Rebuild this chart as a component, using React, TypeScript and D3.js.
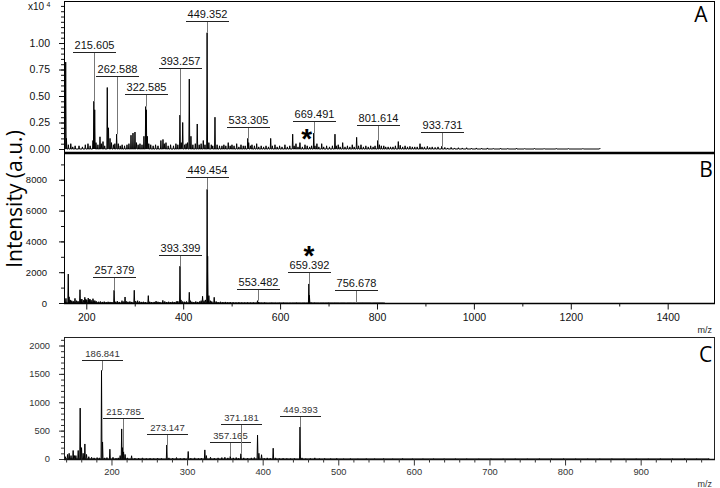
import { useEffect, useRef } from 'react';
import * as d3 from 'd3';

type Peak = [number, number];
type PeakLabel = { mz: number; at: number };

// panel A, intensity in units of 10^4
const spectrumA: Peak[] = [
  [157.5, 0.82], [159, 0.1], [163, 0.04], [168, 0.05], [172, 0.02], [177, 0.03], [185, 0.03], [192, 0.02],
  [198, 0.04], [203.5, 0.05], [208, 0.03], [213.8, 0.08], [215.6, 0.45], [217.4, 0.37], [220, 0.06], [224, 0.04],
  [228.3, 0.115], [231, 0.05], [234.5, 0.07], [238, 0.03], [243.3, 0.58], [245.8, 0.2], [249, 0.1], [252, 0.06],
  [256, 0.04], [259, 0.05], [262.6, 0.14], [266, 0.05], [270, 0.03], [274, 0.04], [279, 0.03], [284, 0.04],
  [288, 0.05], [292.3, 0.13], [296.4, 0.15], [300.5, 0.16], [303.6, 0.06], [307, 0.04], [310.8, 0.05], [315, 0.04],
  [319, 0.12], [322.6, 0.4], [323.9, 0.37], [326, 0.12], [329, 0.05], [333, 0.04], [338, 0.03], [343, 0.04],
  [348, 0.03], [354, 0.08], [358.3, 0.09], [361, 0.05], [364.5, 0.06], [369, 0.03], [374, 0.04], [380, 0.03],
  [385, 0.05], [389, 0.04], [393.3, 0.32], [396, 0.06], [399, 0.25], [403, 0.04], [406, 0.05], [409, 0.06],
  [412.6, 0.66], [416, 0.12], [420, 0.04], [425, 0.05], [429, 0.236], [433, 0.04], [437, 0.05], [441.5, 0.08],
  [445, 0.04], [449.35, 1.097], [453, 0.06], [458, 0.04], [461, 0.03], [465.6, 0.3], [470, 0.04], [475, 0.03],
  [480, 0.03], [484, 0.04], [488, 0.03], [493, 0.06], [497, 0.03], [500.7, 0.04], [505, 0.03], [510.4, 0.05],
  [515, 0.02], [519.3, 0.04], [524, 0.03], [528, 0.03], [533.3, 0.1], [535.2, 0.06], [539, 0.03], [542, 0.04],
  [547, 0.03], [551.7, 0.05], [556, 0.02], [561, 0.03], [566, 0.02], [571, 0.03], [576, 0.02], [580.6, 0.1],
  [584, 0.03], [589.5, 0.04], [594, 0.02], [599, 0.03], [604, 0.02], [610, 0.04], [615, 0.02], [620, 0.03],
  [626, 0.14], [629, 0.03], [632.8, 0.05], [637, 0.02], [641, 0.06], [646, 0.02], [651.4, 0.04], [656, 0.03],
  [661, 0.02], [665, 0.03], [669.5, 0.15], [672, 0.03], [676, 0.05], [680, 0.02], [685.9, 0.05], [690, 0.02],
  [696, 0.03], [702, 0.02], [708, 0.03], [713.3, 0.14], [716, 0.03], [720, 0.04], [724, 0.02], [729.2, 0.06],
  [734, 0.02], [739, 0.03], [744, 0.02], [749, 0.04], [753, 0.02], [758, 0.11], [762, 0.03], [767, 0.04],
  [772, 0.02], [777, 0.03], [782, 0.02], [787, 0.03], [792, 0.02], [796, 0.03], [801.6, 0.08], [805, 0.04],
  [809, 0.03], [814, 0.03], [818, 0.02], [823, 0.02], [828, 0.02], [833, 0.02], [838, 0.03], [844, 0.07],
  [848, 0.035], [853, 0.02], [858, 0.03], [863, 0.02], [868, 0.025], [873, 0.02], [878, 0.02], [883, 0.02],
  [888.8, 0.05], [893, 0.02], [898, 0.02], [904, 0.025], [909, 0.015], [914, 0.02], [920, 0.015], [926, 0.02],
  [933.7, 0.025], [940, 0.015], [946, 0.01], [953, 0.015], [960, 0.01], [968, 0.012], [976, 0.01], [985, 0.012],
  [995, 0.008], [1005, 0.01], [1016, 0.008], [1028, 0.01], [1040, 0.006], [1055, 0.008], [1070, 0.006],
  [1088, 0.008], [1105, 0.005], [1125, 0.006], [1145, 0.005], [1170, 0.006], [1195, 0.005], [1225, 0.005], [1260, 0.006],
];

const spectrumB: Peak[] = [
  [158, 300], [162.8, 1880], [164.5, 400], [167, 200], [170, 150], [173, 120], [176.7, 300], [180, 150],
  [183, 120], [187, 860], [189, 250], [191, 250], [194, 180], [197, 370], [199, 250], [201, 200],
  [204, 320], [206, 220], [207.6, 250], [210, 180], [213.8, 280], [216, 150], [218, 150], [221, 100],
  [225, 80], [229, 100], [233, 70], [237, 90], [241, 60], [245, 80], [249, 70], [253, 60],
  [257.4, 825], [260, 80], [264, 120], [268, 70], [273.7, 150], [277, 90], [280, 390], [283, 100],
  [286, 80], [290, 100], [294, 70], [299, 825], [302, 120], [306, 150], [310, 100], [314, 70],
  [318, 80], [322, 60], [328, 477], [331, 80], [335, 60], [340, 70], [344, 120], [348, 80],
  [352, 60], [358, 170], [362, 100], [366, 60], [370, 80], [374, 60], [378, 80], [382, 60],
  [386, 100], [389, 120], [393.4, 2390], [395.5, 200], [399, 100], [403, 80], [407, 100], [412.6, 695],
  [415, 150], [418, 80], [422, 60], [426, 100], [430, 70], [434, 100], [437, 150], [440, 434],
  [443, 150], [446, 200], [449.45, 7380], [450.5, 3040], [453, 477], [456, 150], [459, 100], [464, 370],
  [468, 100], [472, 60], [477, 80], [482, 60], [487, 70], [492, 50], [497, 60], [503, 50],
  [509, 40], [515, 50], [521, 40], [527, 35], [533, 40], [539, 30], [545, 35], [553.5, 150],
  [556, 60], [561, 30], [568, 35], [575, 25], [583, 30], [591, 25], [599, 20], [607, 25],
  [616, 20], [625, 20], [634, 25], [643, 20], [651, 20], [659.4, 1237], [660.5, 500], [664, 40],
  [671, 25], [680, 20], [690, 15], [700, 20], [712, 15], [724, 12], [736, 12], [748, 10],
  [756.7, 25], [770, 10], [790, 8], [815, 8],
];

const spectrumC: Peak[] = [
  [139, 40], [141.9, 80], [144, 100], [146.5, 60], [149.3, 150], [151, 60], [152.9, 60], [156, 150],
  [158.6, 897], [160.4, 200], [162.5, 100], [164.8, 265], [167, 80], [170, 40], [173.7, 30], [177, 20],
  [181, 25], [184, 20], [186.84, 1560], [188.2, 300], [191, 20], [194, 25], [197.9, 172], [202, 30],
  [206, 15], [209, 20], [211.5, 60], [213.5, 530], [214.8, 200], [216, 130], [218, 80], [221, 20],
  [226.6, 57], [231, 15], [236, 15], [241, 20], [246, 12], [251, 15], [256, 12], [261, 15],
  [266, 12], [273.15, 247], [276, 20], [281, 15], [286, 25], [291, 12], [296, 15], [301.5, 132],
  [305, 15], [310, 20], [315, 12], [319, 15], [323.5, 160], [325.5, 60], [331, 30], [336, 15],
  [341, 20], [346, 25], [350, 30], [354, 20], [357.17, 46], [361, 20], [365, 25], [368, 15],
  [371.18, 92], [375, 20], [380, 15], [385, 20], [389, 25], [393.2, 420], [395, 100], [398.5, 75],
  [402, 15], [406, 20], [410, 15], [413.9, 190], [417, 20], [422, 12], [427, 15], [432, 12],
  [437, 10], [442, 12], [449.39, 563], [452, 20], [457, 10], [463, 12], [469, 20], [475, 10],
  [482, 12], [490, 10], [498, 12], [507, 8], [516, 10], [526, 8], [537, 10], [548, 8],
  [560, 10], [572, 8], [585, 10], [598, 8], [612, 9], [626, 8], [640, 9], [655, 8],
  [670, 9], [686, 8], [702, 9], [718, 8], [734, 9], [750, 8], [766, 9], [782, 8],
  [798, 9], [814, 8], [830, 9], [846, 8], [862, 9], [878, 8], [894, 9], [910, 8],
  [926, 9], [942, 8], [958, 9], [974, 8], [990, 9],
];

// labelled peaks: m/z and the intensity level of the label bar
const labelsA: PeakLabel[] = [
  { mz: 215.605, at: 0.918 }, { mz: 262.588, at: 0.689 }, { mz: 322.585, at: 0.516 },
  { mz: 393.257, at: 0.767 }, { mz: 449.352, at: 1.21 }, { mz: 533.305, at: 0.21 },
  { mz: 669.491, at: 0.264 }, { mz: 801.614, at: 0.226 }, { mz: 933.731, at: 0.157 },
];
const labelsB: PeakLabel[] = [
  { mz: 257.379, at: 1690 }, { mz: 393.399, at: 3090 }, { mz: 449.454, at: 8155 },
  { mz: 553.482, at: 930 }, { mz: 659.392, at: 1990 }, { mz: 756.678, at: 865 },
];
const labelsC: PeakLabel[] = [
  { mz: 186.841, at: 1743 }, { mz: 215.785, at: 715 }, { mz: 273.147, at: 433 },
  { mz: 357.165, at: 292 }, { mz: 371.181, at: 616 }, { mz: 449.393, at: 757 },
];

const yTicksA = [0, 0.25, 0.5, 0.75, 1.0];
const yTicksB = [0, 2000, 4000, 6000, 8000];
const yTicksC = [0, 500, 1000, 1500, 2000];
const xTicksB = [200, 400, 600, 800, 1000, 1200, 1400];
const xTicksC = [200, 300, 400, 500, 600, 700, 800, 900];
const starA = 669.491;
const starB = 659.392;

const FONT = 'Liberation Sans, Arial, sans-serif';
const TITLE_FONT = 'Open Sans, sans-serif';

export default function App() {
  const svgRef = useRef<SVGSVGElement>(null);

  useEffect(() => {
    const width = 720;
    const height = 488;
    const svg = d3.select(svgRef.current!).attr('width', width).attr('height', height);
    svg.selectAll('*').remove();

    const left = 64;
    const right = 714;
    const xAB = d3.scaleLinear().domain([154, 1495.6]).range([left, right]);
    const xC = d3.scaleLinear().domain([137.2, 997]).range([left, right]);
    const yA = d3.scaleLinear().domain([0, 1.387]).range([149, 2]);
    const yB = d3.scaleLinear().domain([0, 9740]).range([303, 153]);
    const yC = d3.scaleLinear().domain([0, 2150]).range([459, 337]);

    const drawSpectrum = (peaks: Peak[], x: any, y: any, hw: number) => {
      const sorted = [...peaks].sort((a, b) => a[0] - b[0]);
      const pts: Peak[] = [[x.domain()[0], 0]];
      sorted.forEach(([m, h]) => { pts.push([m - hw, 0], [m, h], [m + hw, 0]); });
      const line = d3.line<Peak>().x(d => x(d[0])).y(d => y(d[1]));
      svg.append('path')
        .attr('d', line(pts))
        .attr('fill', 'none')
        .attr('stroke', '#000')
        .attr('stroke-width', 1);
    };

    const drawLabels = (labels: PeakLabel[], peaks: Peak[], x: any, y: any, w: number, fs: number, color: string) => {
      labels.forEach(l => {
        const px = Math.round(x(l.mz)) + 0.5;
        const ly = Math.round(y(l.at)) + 0.5;
        const near = peaks.reduce((best, p) => Math.abs(p[0] - l.mz) < Math.abs(best[0] - l.mz) ? p : best);
        svg.append('line')
          .attr('x1', px).attr('x2', px)
          .attr('y1', ly).attr('y2', y(near[1]))
          .attr('stroke', '#777').attr('stroke-width', 1);
        svg.append('line')
          .attr('x1', px - w / 2).attr('x2', px + w / 2)
          .attr('y1', ly).attr('y2', ly)
          .attr('stroke', '#222').attr('stroke-width', 1);
        svg.append('text')
          .attr('x', px).attr('y', ly - 3.5)
          .attr('text-anchor', 'middle')
          .style('font-family', FONT).style('font-size', `${fs}px`)
          .attr('fill', color)
          .text(l.mz.toFixed(3));
      });
    };

    const yAxis = (y: any, major: number[], minor: number[], fmt: (d: any) => string, pad: number, fs: number, color: string) => {
      svg.append('g').attr('transform', `translate(${left},0)`)
        .call(d3.axisLeft(y).tickValues(minor).tickSize(3).tickFormat(() => '') as any)
        .call(g => g.select('.domain').remove())
        .call(g => g.selectAll('line').attr('stroke', color));
      svg.append('g').attr('transform', `translate(${left},0)`)
        .call(d3.axisLeft(y).tickValues(major).tickSize(5).tickPadding(pad).tickFormat(fmt) as any)
        .call(g => g.select('.domain').remove())
        .call(g => g.selectAll('line').attr('stroke', color))
        .call(g => g.selectAll('text').attr('fill', color).style('font-family', FONT).style('font-size', `${fs}px`));
    };

    const xAxis = (x: any, y0: number, major: number[], minor: number[], pad: number, fs: number, color: string) => {
      svg.append('g').attr('transform', `translate(0,${y0})`)
        .call(d3.axisBottom(x).tickValues(minor).tickSize(3).tickFormat(() => '') as any)
        .call(g => g.select('.domain').remove())
        .call(g => g.selectAll('line').attr('stroke', color));
      svg.append('g').attr('transform', `translate(0,${y0})`)
        .call(d3.axisBottom(x).tickValues(major).tickSize(6).tickPadding(pad).tickFormat(d3.format('d')) as any)
        .call(g => g.select('.domain').remove())
        .call(g => g.selectAll('line').attr('stroke', color))
        .call(g => g.selectAll('text').attr('fill', color).style('font-family', FONT).style('font-size', `${fs}px`));
    };

    // spectra
    drawSpectrum(spectrumA, xAB, yA, 0.9);
    drawSpectrum(spectrumB, xAB, yB, 0.9);
    drawSpectrum(spectrumC, xC, yC, 0.6);

    // frames
    const frame = (x1: number, y1: number, x2: number, y2: number, w = 1, c = '#000') =>
      svg.append('line').attr('x1', x1).attr('y1', y1).attr('x2', x2).attr('y2', y2)
        .attr('stroke', c).attr('stroke-width', w);
    frame(left + 0.5, 1, left + 0.5, 304);
    frame(right + 0.5, 1, right + 0.5, 304);
    frame(left, 1.5, right + 1, 1.5);
    frame(left, 153, right + 1, 153, 2.6);
    frame(left, 303.5, right + 1, 303.5, 1.3);
    frame(left + 0.5, 337, left + 0.5, 460, 1, '#222');
    frame(right + 0.5, 337, right + 0.5, 460, 1, '#222');
    frame(left, 337.5, right + 1, 337.5, 1, '#222');
    frame(left, 459.5, right + 1, 459.5, 1.3, '#111');

    // axes
    yAxis(yA, yTicksA, d3.range(0, 1.36, 0.05), d => d3.format('.2f')(d), 9, 10.5, '#111');
    yAxis(yB, yTicksB, d3.range(0, 9001, 1000), d => d3.format('d')(d), 12, 9.5, '#111');
    yAxis(yC, yTicksC, d3.range(0, 2101, 100), d => d3.format('d')(d), 9, 9.3, '#333');
    xAxis(xAB, 303.5, xTicksB, [300, 500, 700, 900, 1100, 1300], 4, 10.5, '#111');
    xAxis(xC, 459.5, xTicksC, d3.range(140, 1000, 20).filter(v => v % 100 !== 0), 3, 9.3, '#333');

    // peak labels
    drawLabels(labelsA, spectrumA, xAB, yA, 43, 11, '#111');
    drawLabels(labelsB, spectrumB, xAB, yB, 43, 11, '#111');
    drawLabels(labelsC, spectrumC, xC, yC, 41, 9.5, '#333');

    // asterisks
    svg.append('text').attr('x', xAB(starA) - 7).attr('y', 148).attr('text-anchor', 'middle')
      .style('font-family', FONT).style('font-size', '28px').style('font-weight', 'bold').text('*');
    svg.append('text').attr('x', xAB(starB)).attr('y', 265).attr('text-anchor', 'middle')
      .style('font-family', FONT).style('font-size', '28px').style('font-weight', 'bold').text('*');

    // scale factor of panel A
    svg.append('text').attr('x', 28).attr('y', 10)
      .style('font-family', FONT).style('font-size', '10px').attr('fill', '#111').text('x10');
    svg.append('text').attr('x', 46.5).attr('y', 6.5)
      .style('font-family', FONT).style('font-size', '7px').attr('fill', '#111').text('4');

    // m/z units
    svg.append('text').attr('x', 712).attr('y', 333).attr('text-anchor', 'end')
      .style('font-family', FONT).style('font-size', '9px').attr('fill', '#222').text('m/z');
    svg.append('text').attr('x', 712).attr('y', 487).attr('text-anchor', 'end')
      .style('font-family', FONT).style('font-size', '9px').attr('fill', '#333').text('m/z');

    // panel letters
    const letter = (t: string, x: number, y: number) =>
      svg.append('text').attr('x', x).attr('y', y).attr('text-anchor', 'middle')
        .style('font-family', TITLE_FONT).style('font-size', '21px').text(t);
    letter('A', 701, 22);
    letter('B', 706, 177);
    letter('C', 705.5, 362);

    // y title
    svg.append('text')
      .attr('transform', 'translate(21.5,199) rotate(-90)')
      .attr('text-anchor', 'middle')
      .style('font-family', TITLE_FONT).style('font-size', '21px')
      .text('Intensity (a.u.)');
  }, []);

  return (
    <svg ref={svgRef} style={{ position: 'absolute', left: 0, top: 0, background: '#fff' }}></svg>
  );
}
